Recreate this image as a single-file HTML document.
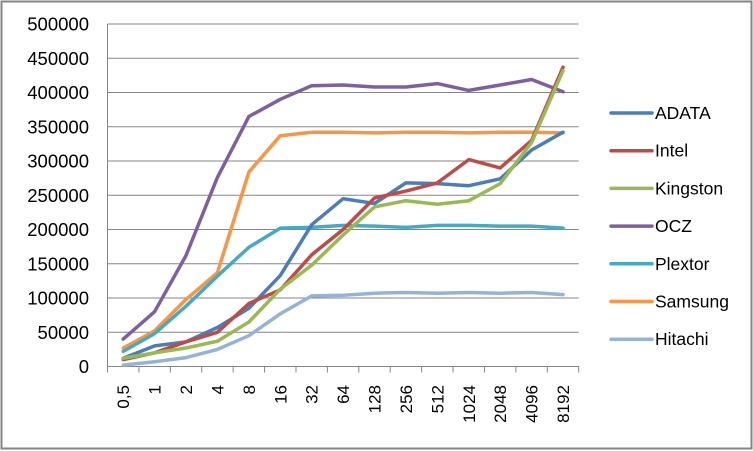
<!DOCTYPE html>
<html><head><meta charset="utf-8"><style>
html,body{margin:0;padding:0;background:#fff;}
svg{display:block;font-family:"Liberation Sans",sans-serif;}
</style></head><body>
<svg id="c" width="753" height="451" xmlns="http://www.w3.org/2000/svg"></svg>
<script>
const s=document.getElementById('c');
let h='<rect x="1.5" y="1.5" width="750" height="447" fill="#fff" stroke="#868686" stroke-width="2"/>';
const L=107.5,R=578.7,T=24,B=366.5,n=15,cw=(R-L)/n;
const Y=v=>B-(v/500000)*(B-T);
for(let i=0;i<=10;i++){const y=Y(i*50000);
 if(i>0)h+=`<line x1="${L}" y1="${y}" x2="${R}" y2="${y}" stroke="#868686" stroke-width="1"/>`;
 h+=`<text x="89" y="${y+6.5}" font-size="18.5" text-anchor="end" fill="#000">${i*50000}</text>`;}
h+=`<line x1="${L}" y1="${T}" x2="${L}" y2="${B}" stroke="#868686"/>`;
h+=`<line x1="${L}" y1="${B}" x2="${R}" y2="${B}" stroke="#868686"/>`;
const cats=["0,5","1","2","4","8","16","32","64","128","256","512","1024","2048","4096","8192"];
for(let i=0;i<=n;i++){const x=L+i*cw;h+=`<line x1="${x}" y1="${B}" x2="${x}" y2="${B+6}" stroke="#868686"/>`;}
cats.forEach((c,i)=>{const x=L+cw/2+i*cw;
 h+=`<text transform="translate(${x+6},385) rotate(-90)" font-size="17" text-anchor="end" fill="#000">${c}</text>`;});
const S=[
["ADATA","#4a7ebb",[12000,30000,36000,57000,85000,133000,207000,245000,238000,268000,267000,264000,274000,316000,342000]],
["Intel","#be4b48",[10000,20000,36000,50000,92000,112000,163000,200000,246000,256000,268000,302000,290000,330000,437000]],
["Kingston","#98b954",[12000,20000,27000,37000,65000,113000,148000,192000,233000,242000,237000,242000,267000,327000,432000]],
["OCZ","#7d60a0",[40000,80000,162000,276000,365000,390000,410000,411000,408000,408000,413000,403000,411000,419000,401000]],
["Plextor","#46aac5",[22000,48000,88000,132000,174000,202000,203000,206000,205000,203000,206000,206000,205000,205000,202000]],
["Samsung","#f79646",[27000,52000,98000,137000,284000,337000,342000,342000,341000,342000,342000,341000,342000,342000,341000]],
["Hitachi","#95b3d7",[2000,7000,13000,25000,45000,77000,103000,104000,107000,108000,107000,108000,107000,108000,105000]]];
const order=[6,5,4,3,0,1,2];
order.forEach(k=>{const [nm,col,d]=S[k];
 const p=d.map((v,i)=>(L+cw/2+i*cw).toFixed(1)+','+Y(v).toFixed(1)).join(' ');
 h+=`<polyline points="${p}" fill="none" stroke="${col}" stroke-width="3.5" stroke-linejoin="round" stroke-linecap="round"/>`;});
S.forEach(([nm,col],i)=>{const y=113+i*37.7;
 h+=`<line x1="611" y1="${y}" x2="652" y2="${y}" stroke="${col}" stroke-width="3.5" stroke-linecap="round"/>`;
 h+=`<text x="655" y="${y+6}" font-size="17.5" fill="#000">${nm}</text>`;});
s.innerHTML=h;
</script>
</body></html>
